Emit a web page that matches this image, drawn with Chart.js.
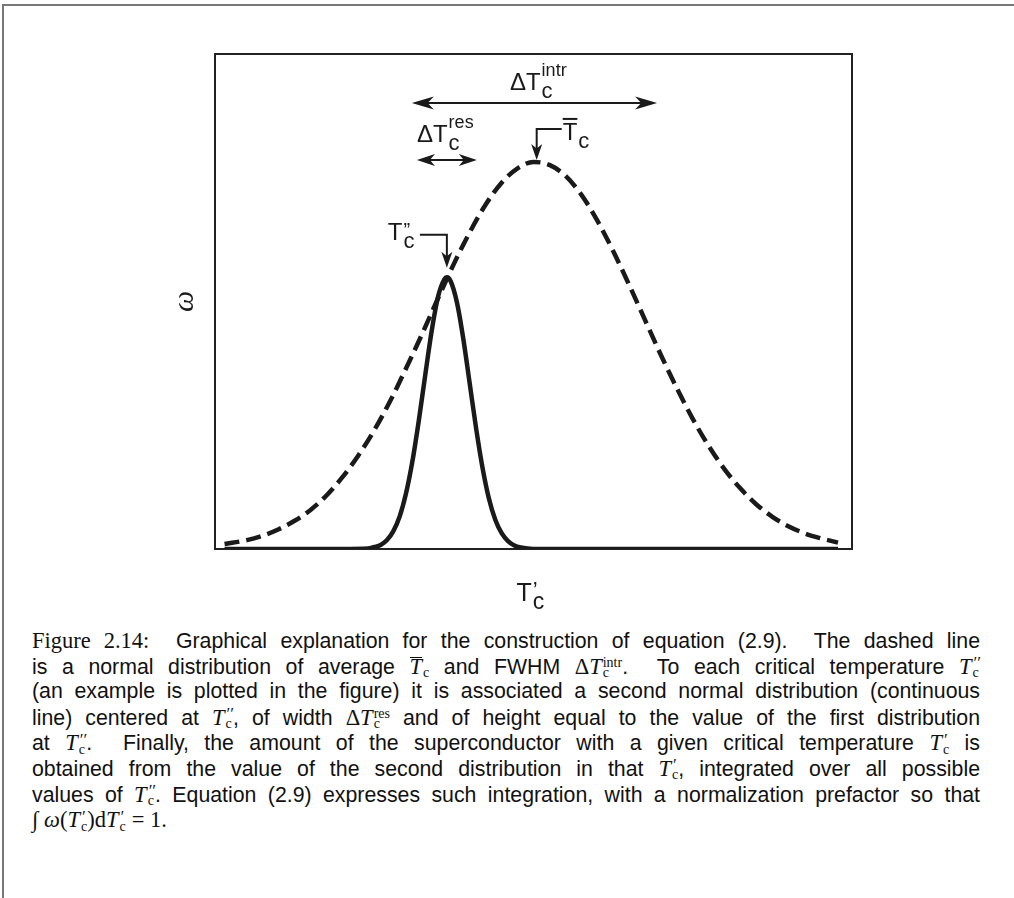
<!DOCTYPE html>
<html>
<head>
<meta charset="utf-8">
<script src="https://cdn.jsdelivr.net/npm/chart.js@4/dist/chart.umd.min.js"></script>
<style>
  body { margin: 0; background: #fff; }
  #page { position: relative; width: 1014px; height: 898px; overflow: hidden; }
  #frameTop { position: absolute; left: 2px; top: 4px; width: 1012px; height: 2px; background: #777; }
  #frameLeft { position: absolute; left: 2px; top: 4px; width: 2px; height: 894px; background: #777; }
  #plot { position: absolute; left: 0; top: 0; }
  #caption { position: absolute; left: 32px; top: 628px; width: 948px;
             font-family: "Liberation Sans", Arial, sans-serif; font-size: 21.3px; color: #111; }
  #caption .ln { height: 25.6px; line-height: 25.6px; white-space: nowrap; overflow: visible;
                 text-align: justify; text-align-last: justify; }
  #caption .ln.last { text-align-last: left; }
  .rm { font-family: "Liberation Serif", serif; font-size: 22.5px; }
  .mi { font-family: "Liberation Serif", serif; font-style: italic; font-size: 22.5px; }
  .bar { display: inline-block; line-height: 17px; border-top: 1.5px solid #111; }
  .ss { display: inline-flex; flex-direction: column; vertical-align: middle; line-height: 10px;
        font-family: "Liberation Serif", serif; font-size: 14px; margin-left: 1px; }
  .ss .p { font-size: 17px; font-style: italic; }
</style>
</head>
<body>
<div id="page">
  <div id="frameTop"></div>
  <div id="frameLeft"></div>
  <canvas id="plot" width="1014" height="620"></canvas>
  <div id="caption">
    <div class="ln"><span class="rm">Figure 2.14:</span>&nbsp; Graphical explanation for the construction of equation (2.9).&nbsp; The dashed line</div>
    <div class="ln">is a normal distribution of average <span class="mi bar">T</span><span class="ss"><span>&nbsp;</span><span>c</span></span> and FWHM <span class="rm">Δ</span><span class="mi">T</span><span class="ss"><span>intr</span><span>c</span></span>.&nbsp; To each critical temperature <span class="mi">T</span><span class="ss"><span class="p">′′</span><span>c</span></span></div>
    <div class="ln">(an example is plotted in the figure) it is associated a second normal distribution (continuous</div>
    <div class="ln">line) centered at <span class="mi">T</span><span class="ss"><span class="p">′′</span><span>c</span></span>, of width <span class="rm">Δ</span><span class="mi">T</span><span class="ss"><span>res</span><span>c</span></span> and of height equal to the value of the first distribution</div>
    <div class="ln">at <span class="mi">T</span><span class="ss"><span class="p">′′</span><span>c</span></span>.&nbsp; Finally, the amount of the superconductor with a given critical temperature <span class="mi">T</span><span class="ss"><span class="p">′</span><span>c</span></span> is</div>
    <div class="ln">obtained from the value of the second distribution in that <span class="mi">T</span><span class="ss"><span class="p">′</span><span>c</span></span>, integrated over all possible</div>
    <div class="ln">values of <span class="mi">T</span><span class="ss"><span class="p">′′</span><span>c</span></span>. Equation (2.9) expresses such integration, with a normalization prefactor so that</div>
    <div class="ln last"><span class="rm">∫</span> <span class="mi">ω</span><span class="rm">(</span><span class="mi">T</span><span class="ss"><span class="p">′</span><span>c</span></span><span class="rm">)d</span><span class="mi">T</span><span class="ss"><span class="p">′</span><span>c</span></span> <span class="rm">= 1.</span></div>
  </div>
</div>
<script>
// dashed curve: intrinsic distribution
const dashedX = [1.5, 5, 7.5, 10, 12.5, 15, 17.5, 20, 22.5, 25, 27.5, 30, 32.5, 35, 37.5, 40, 42.5, 45, 47.5, 50,
                 52.5, 55, 57.5, 60, 62.5, 65, 67.5, 70, 72.5, 75, 77.5, 80, 82.5, 85, 87.5, 90, 92.5, 95, 97.8];
const dashedY = [0.010, 0.018, 0.027, 0.040, 0.057, 0.079, 0.108, 0.145, 0.189, 0.240, 0.299, 0.365, 0.434, 0.506, 0.576, 0.640, 0.696, 0.740, 0.769, 0.782,
                 0.776, 0.754, 0.716, 0.664, 0.602, 0.534, 0.463, 0.392, 0.325, 0.263, 0.208, 0.161, 0.122, 0.090, 0.065, 0.046, 0.032, 0.022, 0.013];

// solid curve: resolution-limited distribution centred at T''c
const solidX = [1.5, 20, 24, 25, 26, 27, 28, 29, 30, 31, 32, 33, 34, 35, 36, 36.4, 37, 38, 39, 40, 41, 42, 43, 44, 45, 46, 47, 48, 50, 60, 97.8];
const solidY = [0, 0, 0.001, 0.004, 0.008, 0.018, 0.036, 0.066, 0.113, 0.178, 0.260, 0.351, 0.439, 0.509, 0.545, 0.549, 0.541, 0.497, 0.423, 0.333, 0.243, 0.164, 0.102, 0.059, 0.032, 0.016, 0.007, 0.003, 0, 0, 0];

// annotation anchors, in data units
const intrArrow = { from: 30.9, to: 69.4, y: 0.901 };
const resArrow = { from: 31.7, to: 41.1, y: 0.786 };
const meanTip = { x: 50.5, y: 0.786 };
const tppTip = { x: 36.4, y: 0.568 };

const ink = '#1a1a1a';
const sans = '"Liberation Sans", Arial, sans-serif';

function toPts(xs, ys) { return xs.map((v, i) => ({ x: v, y: ys[i] })); }

function head(ctx, tx, ty, dx, dy, len, half) {
  const bx = tx - dx * len, by = ty - dy * len, nx = -dy, ny = dx;
  ctx.beginPath();
  ctx.moveTo(tx, ty);
  ctx.lineTo(bx + nx * half, by + ny * half);
  ctx.lineTo(tx - dx * len * 0.72, ty - dy * len * 0.72);
  ctx.lineTo(bx - nx * half, by - ny * half);
  ctx.closePath();
  ctx.fill();
}

function dblArrow(ctx, x1, x2, y, len, half) {
  ctx.beginPath();
  ctx.moveTo(x1 + len * 0.6, y);
  ctx.lineTo(x2 - len * 0.6, y);
  ctx.stroke();
  head(ctx, x1, y, -1, 0, len, half);
  head(ctx, x2, y, 1, 0, len, half);
}

function label(ctx, x, base, main, sup, sub, mainSize) {
  ctx.font = mainSize + 'px ' + sans;
  ctx.fillText(main, x, base);
  const w = ctx.measureText(main).width;
  if (sub) { ctx.font = (mainSize - 2) + 'px ' + sans; ctx.fillText(sub, x + w + 1, base + 8); }
  if (sup) { ctx.font = '18px ' + sans; ctx.fillText(sup, x + w + 1, base - 14); }
  return w;
}

const box = {
  id: 'box',
  beforeDatasetsDraw(chart) {
    const { ctx, chartArea: a } = chart;
    ctx.save();
    ctx.strokeStyle = '#222';
    ctx.lineWidth = 2;
    ctx.strokeRect(a.left, a.top, a.right - a.left, a.bottom - a.top);
    ctx.restore();
  }
};

const notes = {
  id: 'notes',
  afterDatasetsDraw(chart) {
    const { ctx, chartArea: a, scales: { x, y } } = chart;
    ctx.save();
    ctx.fillStyle = ink;
    ctx.strokeStyle = ink;
    ctx.lineWidth = 2;
    ctx.textBaseline = 'alphabetic';

    // ΔTc intr arrow + label
    const iy = y.getPixelForValue(intrArrow.y);
    dblArrow(ctx, x.getPixelForValue(intrArrow.from), x.getPixelForValue(intrArrow.to), iy, 22, 6.5);
    label(ctx, x.getPixelForValue(46.3), iy - 13, 'ΔT', 'intr', 'c', 24);

    // ΔTc res arrow + label
    const ry = y.getPixelForValue(resArrow.y);
    dblArrow(ctx, x.getPixelForValue(resArrow.from), x.getPixelForValue(resArrow.to), ry, 18, 6);
    label(ctx, x.getPixelForValue(31.7), ry - 18, 'ΔT', 'res', 'c', 24);

    // mean Tc leader
    const mx = x.getPixelForValue(meanTip.x), my = y.getPixelForValue(meanTip.y);
    ctx.beginPath();
    ctx.moveTo(mx + 25, my - 31);
    ctx.lineTo(mx, my - 31);
    ctx.lineTo(mx, my - 8);
    ctx.stroke();
    head(ctx, mx, my, 0, 1, 16, 5.5);
    const tw = label(ctx, mx + 26, my - 20, 'T', null, 'c', 24);
    ctx.fillRect(mx + 26, my - 42, tw, 2);

    // T''c leader
    const px = x.getPixelForValue(tppTip.x), py = y.getPixelForValue(tppTip.y);
    ctx.beginPath();
    ctx.moveTo(px - 27, py - 33);
    ctx.lineTo(px, py - 33);
    ctx.lineTo(px, py - 8);
    ctx.stroke();
    head(ctx, px, py, 0, 1, 16, 5.5);
    const pw = label(ctx, px - 59, py - 28, 'T', null, 'c', 24);
    ctx.font = '20px ' + sans;
    ctx.fillText('”', px - 59 + pw + 1, py - 31);

    // x-axis title T'c
    const cx = (a.left + a.right) / 2;
    const xw = label(ctx, cx - 17, a.bottom + 52, 'T', null, 'c', 25);
    ctx.font = '22px ' + sans;
    ctx.fillText('’', cx - 17 + xw + 1, a.bottom + 48);

    // y-axis title ω
    ctx.translate(a.left - 30, (a.top + a.bottom) / 2);
    ctx.rotate(-Math.PI / 2);
    ctx.font = 'italic 30px "Liberation Serif", serif';
    ctx.textAlign = 'center';
    ctx.textBaseline = 'middle';
    ctx.fillText('ω', 0, 0);
    ctx.restore();
  }
};

new Chart(document.getElementById('plot').getContext('2d'), {
  type: 'line',
  data: {
    datasets: [
      { label: 'intrinsic', data: toPts(dashedX, dashedY), borderColor: ink, borderWidth: 4.5, borderDash: [15, 7],
        cubicInterpolationMode: 'monotone', pointRadius: 0, fill: false },
      { label: 'resolution', data: toPts(solidX, solidY), borderColor: ink, borderWidth: 4.5,
        cubicInterpolationMode: 'monotone', pointRadius: 0, fill: false }
    ]
  },
  options: {
    responsive: false,
    animation: false,
    layout: { padding: { left: 215, right: 162, top: 54, bottom: 71 } },
    scales: {
      x: { type: 'linear', min: 0, max: 100, display: false },
      y: { min: 0, max: 1, display: false }
    },
    plugins: { legend: { display: false }, tooltip: { enabled: false } }
  },
  plugins: [box, notes]
});
</script>
</body>
</html>
